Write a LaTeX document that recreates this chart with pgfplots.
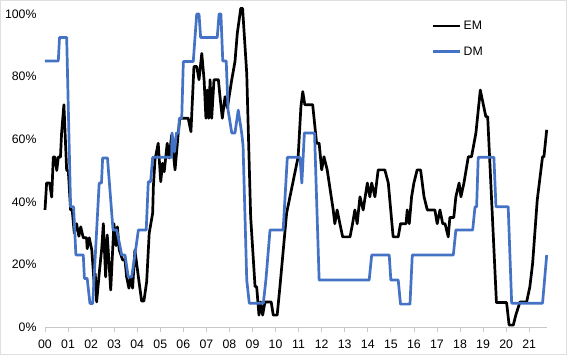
\documentclass[border=0pt]{standalone}
\usepackage{fontspec}
\setmainfont{Liberation Sans}
\usepackage{pgfplots}
\pgfplotsset{compat=1.18}
\definecolor{dmblue}{RGB}{68,114,196}
\definecolor{axgray}{RGB}{200,200,200}
\begin{document}
\begin{tikzpicture}
\begin{axis}[
  at={(0,0)}, anchor=south west,
  scale only axis, width=501.7pt, height=313pt,
  xmin=0, xmax=21.76, ymin=0, ymax=100,
  clip=false,
  axis x line*=bottom, axis y line*=left,
  x axis line style={axgray, line width=0.8pt},
  y axis line style={draw=none},
  xtick={0,...,21},
  xticklabels={00,01,02,03,04,05,06,07,08,09,10,11,12,13,14,15,16,17,18,19,20,21},
  ytick={0,20,40,60,80,100},
  yticklabel={\pgfmathprintnumber{\tick}\%},
  /pgf/number format/assume math mode=true,
  xtick style={axgray, line width=0.8pt},
  ytick style={draw=none},
  tick align=outside, major tick length=5pt,
  tick label style={font=\fontsize{12.3}{14}\selectfont, text=black},
  xticklabel style={yshift=-4.5pt},
  yticklabel style={xshift=0pt},
  no markers,
  every axis plot/.append style={line width=2.7pt, line join=round},
  legend style={draw=none, fill=none, at={(0.771,0.985)}, anchor=north west,
    font=\fontsize{12.3}{14}\selectfont, row sep=12pt, inner sep=0pt},
  legend cell align=left,
  legend image code/.code={\draw[#1, line width=2.7pt] (0pt,0pt) -- (27pt,0pt);},
]
\addplot[black] coordinates {
(0,37.4)(0.07,46)(0.20,46)(0.29,41.5)(0.36,54.3)(0.43,54.3)(0.51,50)(0.58,54.3)(0.67,54.3)(0.72,62)(0.82,71)(0.94,50)(1.01,50)(1.11,37.4)(1.18,37.4)(1.27,30)(1.37,33)(1.47,29)(1.55,32)(1.66,28.5)(1.80,28.5)(1.83,25)(1.92,28.5)(2.03,24.6)(2.14,13)(2.18,17)(2.24,8)(2.35,17)(2.46,25)(2.53,33)(2.63,16)(2.70,29.4)(2.85,11.8)(2.99,33)(3.08,26)(3.14,32)(3.22,24.6)(3.37,21.4)(3.47,21.4)(3.54,16)(3.64,12.4)(3.72,16)(3.80,12.4)(3.90,24.6)(4.05,16)(4.19,8.3)(4.29,8.3)(4.41,14.5)(4.52,30)(4.67,36.4)(4.70,44.8)(4.77,53.4)(4.91,58.7)(5.02,46.4)(5.10,52.3)(5.17,49.6)(5.30,58.7)(5.39,54)(5.49,61.3)(5.64,50.2)(5.78,62)(5.85,66.7)(6.21,66.7)(6.33,62.4)(6.46,83.2)(6.58,83.2)(6.68,79)(6.80,87.4)(6.90,79)(6.98,66.7)(7.04,75.7)(7.10,66.7)(7.16,79)(7.23,66.7)(7.33,79)(7.52,79)(7.59,73.6)(7.69,66.7)(7.81,73.6)(7.91,70)(8.10,79)(8.24,84.8)(8.34,93.8)(8.49,101.8)(8.57,101.8)(8.75,81)(8.92,35.2)(9.11,12.9)(9.18,12.9)(9.28,3.8)(9.35,8)(9.44,3.8)(9.54,8)(9.81,8)(9.90,3.8)(10.07,3.8)(10.19,12.9)(10.48,36.4)(10.98,54.4)(11.10,70.4)(11.18,75.2)(11.27,71)(11.61,71)(11.78,58.7)(11.89,58.7)(12.00,50.2)(12.10,54.4)(12.24,50.2)(12.50,37.4)(12.57,33)(12.67,37.4)(12.79,33)(12.91,28.8)(13.23,28.8)(13.34,33)(13.44,37.4)(13.54,33)(13.66,41.6)(13.80,37.4)(13.98,46)(14.09,41.6)(14.17,46)(14.31,41.6)(14.45,50.2)(14.74,50.2)(14.89,46)(15.06,32)(15.10,28.8)(15.32,28.8)(15.42,33)(15.66,33)(15.71,37.4)(15.80,33)(15.90,41.6)(16.00,46)(16.14,50.2)(16.29,50.2)(16.44,41.6)(16.58,37.4)(16.91,37.4)(17.01,33)(17.13,37.4)(17.25,33)(17.35,33)(17.49,28.8)(17.56,35)(17.73,35)(17.82,41.6)(17.96,46)(18.04,41.6)(18.17,46)(18.36,54.4)(18.50,54.4)(18.69,62)(18.88,75.7)(19.12,67.2)(19.20,67.2)(19.58,7.8)(20.02,7.8)(20.13,0.6)(20.31,0.6)(20.42,3.8)(20.60,8)(20.89,8)(21.03,12.9)(21.15,20.4)(21.35,40.6)(21.58,54.4)(21.64,54.4)(21.76,63)
};
\addlegendentry{EM}
\addplot[dmblue] coordinates {
(0,85)(0.577,85)(0.63,92.5)(0.94,92.5)(1.11,38.4)(1.24,38.4)(1.34,23)(1.66,23)(1.71,15.5)(1.83,15.5)(1.95,7.5)(2.07,7.5)(2.35,46)(2.45,46)(2.50,54)(2.71,54)(2.95,31)(3.11,31)(3.33,23)(3.47,23)(3.61,16)(3.76,16)(3.90,23)(4.05,31)(4.39,31)(4.48,46.4)(4.58,46.4)(4.67,54.2)(5.49,54.2)(5.51,62)(5.62,56)(5.70,62)(5.79,62)(5.83,66.7)(5.93,66.7)(6.00,84.8)(6.43,84.8)(6.58,100)(6.68,100)(6.75,92.5)(7.47,92.5)(7.55,100)(7.63,100)(7.71,85)(7.86,85)(7.94,69.3)(8.10,62)(8.24,62)(8.38,69.3)(8.53,62)(8.59,58)(8.75,15)(8.86,7.6)(9.47,7.6)(9.58,15)(9.76,31)(10.33,31)(10.51,54.2)(11.06,54.2)(11.14,46)(11.25,62)(11.69,62)(11.89,15)(14.06,15)(14.17,23)(14.93,23)(15.00,15)(15.32,15)(15.42,7.3)(15.83,7.3)(15.93,23)(17.71,23)(17.82,31)(18.55,31)(18.65,38.4)(18.72,38.4)(18.79,54.2)(19.47,54.2)(19.56,38.4)(20.09,38.4)(20.24,7.6)(21.58,7.6)(21.76,23)
};
\addlegendentry{DM}
\end{axis}
\pgfresetboundingbox
\useasboundingbox (-45pt,-28pt) rectangle (522pt,327pt);
\draw[gray!25, line width=0.8pt] (-44.6pt,-27.6pt) rectangle (521.6pt,326.6pt);
\end{tikzpicture}
\end{document}
